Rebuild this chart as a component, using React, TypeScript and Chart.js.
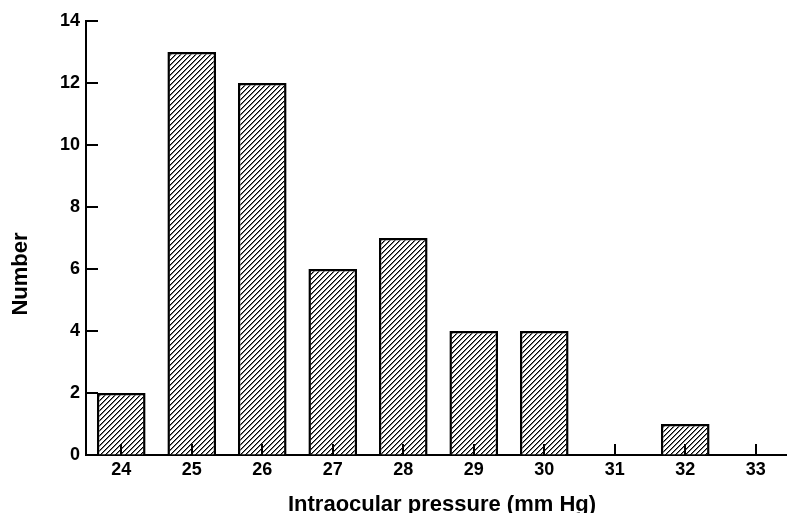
import React, { useEffect, useRef } from 'react';
import { Chart, registerables } from 'chart.js';

Chart.register(...registerables);

const categories: string[] = ['24', '25', '26', '27', '28', '29', '30', '31', '32', '33'];
const counts: number[] = [2, 13, 12, 6, 7, 4, 4, 0, 1, 0];
const yTickValues: number[] = [0, 2, 4, 6, 8, 10, 12, 14];
const xTitle = 'Intraocular pressure (mm Hg)';
const yTitle = 'Number';

const FONT = '"Liberation Sans", Arial, sans-serif';

function makeHatch(): CanvasPattern | string {
  const s = 5;
  const c = document.createElement('canvas');
  c.width = s;
  c.height = s;
  const g = c.getContext('2d');
  if (!g) return '#888';
  g.fillStyle = '#fff';
  g.fillRect(0, 0, s, s);
  for (let x = 0; x < s; x++) {
    const y = s - 1 - x;
    g.fillStyle = '#000';
    g.fillRect(x, y, 1, 1);
    g.fillStyle = '#777';
    g.fillRect((x + 1) % s, y, 1, 1);
  }
  return g.createPattern(c, 'repeat') || '#888';
}

const decorPlugin = {
  id: 'decor',
  afterDatasetsDraw(chart: any) {
    const { ctx, chartArea, scales } = chart;
    const xs = scales.x;
    const ys = scales.y;
    ctx.save();
    ctx.strokeStyle = '#000';
    ctx.lineWidth = 2;
    ctx.beginPath();
    xs.ticks.forEach((_: any, i: number) => {
      const px = Math.round(xs.getPixelForTick(i));
      ctx.moveTo(px, chartArea.bottom);
      ctx.lineTo(px, chartArea.bottom - 11);
    });
    ys.ticks.forEach((t: any) => {
      if (t.value === 0) return;
      const py = Math.round(ys.getPixelForValue(t.value));
      ctx.moveTo(chartArea.left, py);
      ctx.lineTo(chartArea.left + 12, py);
    });
    ctx.stroke();

    ctx.fillStyle = '#000';
    ctx.font = 'bold 22px ' + FONT;
    ctx.textAlign = 'center';
    ctx.textBaseline = 'alphabetic';
    ctx.fillText(xTitle, 442, 511);
    ctx.translate(27, 274);
    ctx.rotate(-Math.PI / 2);
    ctx.fillText(yTitle, 0, 0);
    ctx.restore();
  },
};

export default function App() {
  const ref = useRef<HTMLCanvasElement | null>(null);

  useEffect(() => {
    const canvas = ref.current;
    if (!canvas) return;
    const hatch = makeHatch();
    const tickFont = { family: FONT, size: 18, weight: 'bold' as const };
    const chart = new Chart(canvas, {
      type: 'bar',
      data: {
        labels: categories,
        datasets: [
          {
            data: counts,
            backgroundColor: hatch as any,
            borderColor: '#000',
            borderWidth: 2.5,
            barPercentage: 0.69,
            categoryPercentage: 1,
          },
        ],
      },
      options: {
        responsive: false,
        animation: false,
        layout: { padding: { top: 21, left: 0, right: 0, bottom: 0 } },
        plugins: {
          legend: { display: false },
          tooltip: { enabled: false },
          title: { display: false },
        },
        scales: {
          x: {
            type: 'category',
            offset: true,
            grid: { display: true, color: 'rgba(0,0,0,0)', drawOnChartArea: false, drawTicks: false, tickLength: 0 },
            border: { display: true, color: '#000', width: 2 },
            ticks: { color: '#000', font: tickFont, padding: 4, maxRotation: 0, autoSkip: false },
            afterFit: (s: any) => {
              s.height = 58;
            },
          },
          y: {
            min: 0,
            max: 14,
            grid: { display: true, color: 'rgba(0,0,0,0)', drawOnChartArea: false, drawTicks: false, tickLength: 0 },
            border: { display: true, color: '#000', width: 2 },
            ticks: { color: '#000', font: tickFont, padding: 6, stepSize: 2 },
            afterBuildTicks: (s: any) => {
              s.ticks = yTickValues.map((v) => ({ value: v }));
            },
            afterFit: (s: any) => {
              s.width = 86;
            },
          },
        },
      },
      plugins: [decorPlugin],
    });
    return () => {
      chart.destroy();
    };
  }, []);

  return (
    <div
      style={{
        position: 'fixed',
        left: 0,
        top: 0,
        width: 787,
        height: 513,
        overflow: 'hidden',
        background: '#fff',
      }}
    >
      <canvas ref={ref} width={791} height={513} style={{ display: 'block', width: 791, height: 513 }} />
    </div>
  );
}
